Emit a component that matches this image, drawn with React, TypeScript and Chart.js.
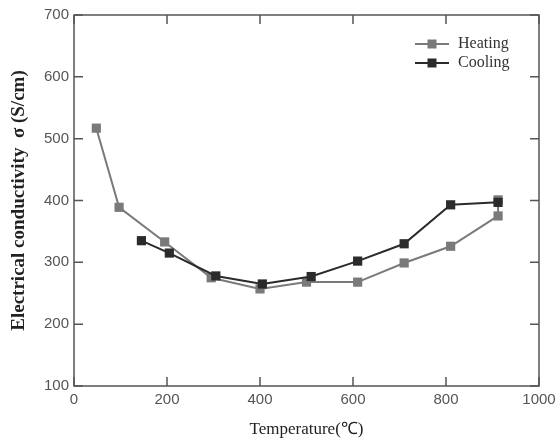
import React, { useEffect, useRef } from "react";
import { Chart, registerables } from "chart.js";
Chart.register(...registerables);

const heatingX = [48, 97, 195, 295, 400, 500, 610, 710, 810, 912, 912];
const heatingY = [517, 389, 333, 275, 257, 268, 268, 299, 326, 375, 401];
const coolingX = [145, 205, 305, 405, 510, 610, 710, 810, 912];
const coolingY = [335, 315, 278, 265, 277, 302, 330, 393, 397];
const xTicks = [0, 200, 400, 600, 800, 1000];
const yTicks = [100, 200, 300, 400, 500, 600, 700];
const seriesNames = ["Heating", "Cooling"];
const seriesColors = ["#7a7a7a", "#2b2b2b"];

const framePlugin = {
  id: "frame",
  afterDatasetsDraw(chart: any) {
    const { ctx, chartArea: a, scales } = chart;
    ctx.save();
    ctx.strokeStyle = "#555";
    ctx.lineWidth = 1.5;
    ctx.strokeRect(a.left, a.top, a.right - a.left, a.bottom - a.top);
    const L = 9;
    ctx.beginPath();
    xTicks.forEach((v) => {
      const px = scales.x.getPixelForValue(v);
      ctx.moveTo(px, a.bottom);
      ctx.lineTo(px, a.bottom - L);
      ctx.moveTo(px, a.top);
      ctx.lineTo(px, a.top + L);
    });
    yTicks.forEach((v) => {
      const py = scales.y.getPixelForValue(v);
      ctx.moveTo(a.left, py);
      ctx.lineTo(a.left + L, py);
      ctx.moveTo(a.right, py);
      ctx.lineTo(a.right - L, py);
    });
    ctx.stroke();
    // legend
    const lx = a.right - 124;
    const ly0 = a.top + 29;
    seriesNames.forEach((name, i) => {
      const y = ly0 + i * 19;
      ctx.strokeStyle = seriesColors[i];
      ctx.lineWidth = 2;
      ctx.beginPath();
      ctx.moveTo(lx, y);
      ctx.lineTo(lx + 34, y);
      ctx.stroke();
      ctx.fillStyle = seriesColors[i];
      ctx.fillRect(lx + 17 - 4.5, y - 4.5, 9, 9);
      ctx.fillStyle = "#333";
      ctx.font = "16px 'Liberation Serif', serif";
      ctx.textBaseline = "middle";
      ctx.textAlign = "left";
      ctx.fillText(name, lx + 43, y);
    });
    ctx.restore();
  },
};

export default function App() {
  const ref = useRef<HTMLCanvasElement>(null);
  useEffect(() => {
    const chart = new Chart(ref.current!, {
      type: "line",
      data: {
        datasets: [
          {
            label: seriesNames[0],
            data: heatingX.map((x, i) => ({ x, y: heatingY[i] })),
            borderColor: seriesColors[0],
            backgroundColor: seriesColors[0],
            borderWidth: 2,
            pointStyle: "rect",
            pointRadius: 6.5,
            pointBorderWidth: 0,
            tension: 0,
            order: 2,
          },
          {
            label: seriesNames[1],
            data: coolingX.map((x, i) => ({ x, y: coolingY[i] })),
            borderColor: seriesColors[1],
            backgroundColor: seriesColors[1],
            borderWidth: 2,
            pointStyle: "rect",
            pointRadius: 6.5,
            pointBorderWidth: 0,
            tension: 0,
            order: 1,
          },
        ],
      },
      options: {
        animation: false,
        responsive: false,
        maintainAspectRatio: false,
        layout: { padding: 0 },
        plugins: { legend: { display: false }, tooltip: { enabled: false } },
        scales: {
          x: {
            type: "linear",
            min: 0,
            max: 1000,
            afterBuildTicks: (s: any) => {
              s.ticks = xTicks.map((v) => ({ value: v }));
            },
            afterFit: (s: any) => {
              s.height = 55;
              s.paddingRight = 17;
              s.paddingLeft = 0;
            },
            grid: { display: false, drawTicks: false },
            border: { display: false },
            ticks: {
              padding: 5,
              color: "#555",
              font: { family: "'Liberation Sans', Arial, sans-serif", size: 15 },
              maxRotation: 0,
              callback: (v: any) => String(v),
            },
            title: {
              display: true,
              text: "Temperature(℃)",
              color: "#222",
              font: { family: "'Liberation Serif', serif", size: 17 },
              padding: { top: 0, bottom: 1 },
            },
          },
          y: {
            type: "linear",
            min: 100,
            max: 700,
            afterBuildTicks: (s: any) => {
              s.ticks = yTicks.map((v) => ({ value: v }));
            },
            afterFit: (s: any) => {
              s.width = 74;
              s.paddingTop = 15;
              s.paddingBottom = 0;
            },
            grid: { display: false, drawTicks: false },
            border: { display: false },
            ticks: {
              padding: 5,
              color: "#555",
              font: { family: "'Liberation Sans', Arial, sans-serif", size: 15 },
              callback: (v: any) => String(v),
            },
            title: {
              display: true,
              text: "Electrical conductivity  σ (S/cm)",
              color: "#222",
              font: { family: "'Liberation Serif', serif", size: 19, weight: "bold" },
              padding: { top: 8, bottom: 0 },
            },
          },
        },
      },
      plugins: [framePlugin],
    } as any);
    return () => chart.destroy();
  }, []);
  return (
    <div style={{ position: "fixed", left: 0, top: 0, width: 556, height: 441, background: "#fff" }}>
      <canvas ref={ref} width={556} height={441} style={{ width: 556, height: 441 }} />
    </div>
  );
}
